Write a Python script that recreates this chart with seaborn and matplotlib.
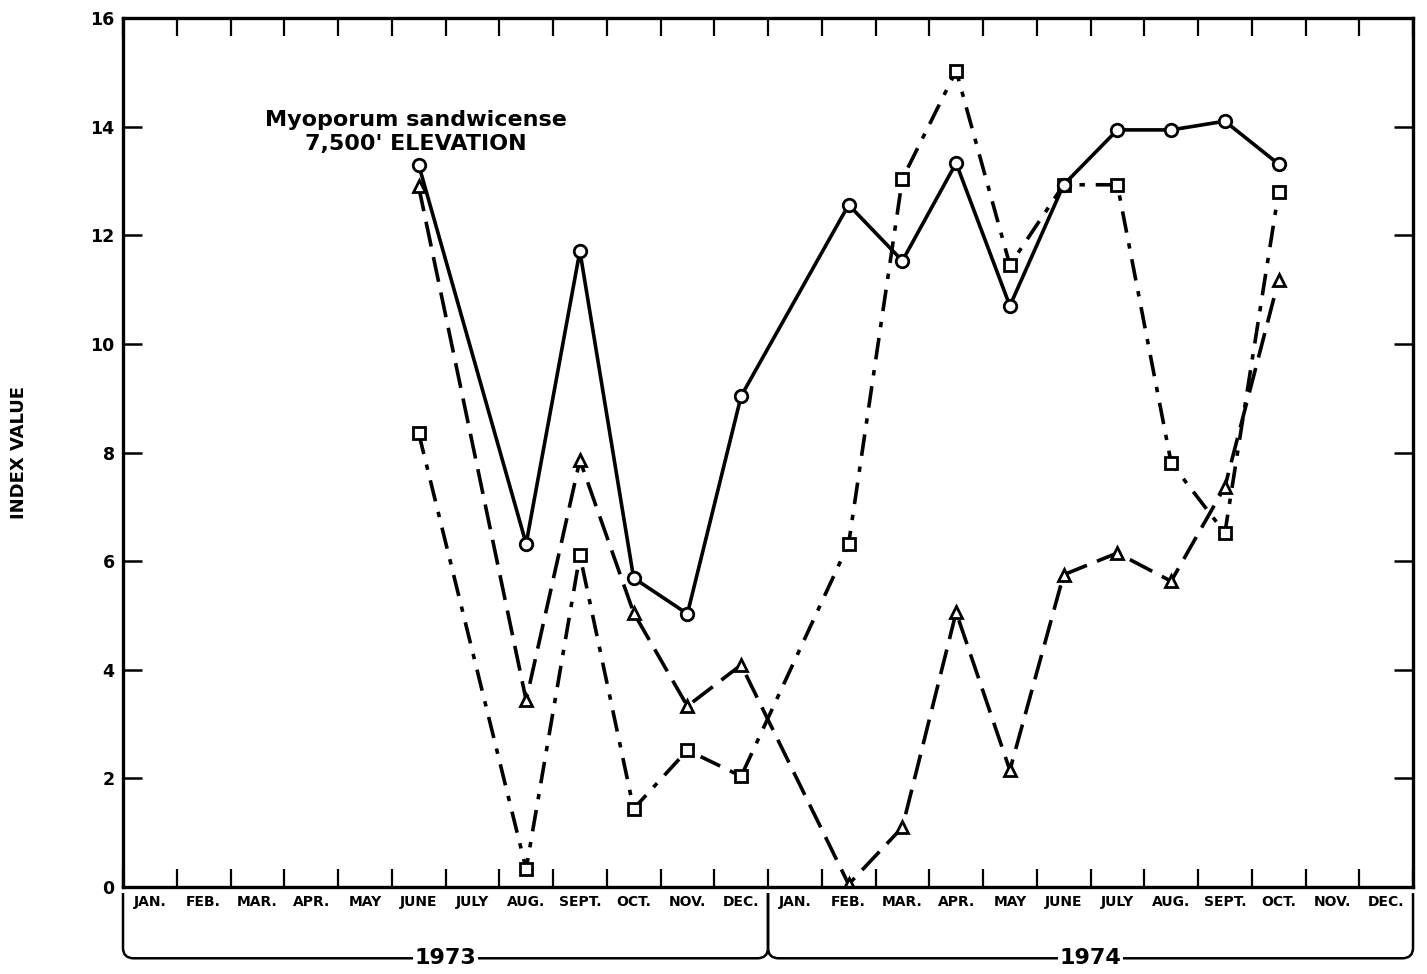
import numpy as np
import pandas as pd
import matplotlib.pyplot as plt
import seaborn as sns
from matplotlib.path import Path
from matplotlib.patches import PathPatch
import matplotlib.transforms as mtransforms

# month labels, two years (1973, 1974)
months = ["JAN.", "FEB.", "MAR.", "APR.", "MAY", "JUNE", "JULY", "AUG.",
          "SEPT.", "OCT.", "NOV.", "DEC."] * 2
years = ["1973", "1974"]
nan = np.nan

# index values (nan = no sample, line bridged)
circle_vals = [nan, nan, nan, nan, nan, 13.30, nan, 6.32, 11.71, 5.69, 5.03, 9.04,
               nan, 12.56, 11.53, 13.33, 10.70, 12.93, 13.94, 13.94, 14.10, 13.31, nan, nan]
triangle_vals = [nan, nan, nan, nan, nan, 12.90, nan, 3.44, 7.86, 5.05, 3.33, 4.09,
                 nan, 0.05, 1.10, 5.06, 2.15, 5.75, 6.15, 5.63, 7.37, 11.18, nan, nan]
square_vals = [nan, nan, nan, nan, nan, 8.36, nan, 0.33, 6.11, 1.44, 2.52, 2.04,
               nan, 6.32, 13.04, 15.03, 11.45, 12.93, 12.93, 7.81, 6.52, 12.80, nan, nan]

df = pd.DataFrame({
    "month": np.arange(24),
    "circle": circle_vals,
    "triangle": triangle_vals,
    "square": square_vals,
})

sns.set_theme(style="white")
plt.rcParams["font.family"] = ["DejaVu Sans"]
plt.rcParams["font.weight"] = "bold"
for key in ["text.color", "axes.labelcolor", "xtick.color", "ytick.color"]:
    plt.rcParams[key] = "black"

fig = plt.figure(figsize=(14.27, 9.74), dpi=100)
ax = fig.add_axes([0.0862, 0.0893, 0.904, 0.8922])

def draw_series(col, marker, ms, ls):
    d = df[["month", col]].dropna()
    sns.lineplot(data=d, x="month", y=col, ax=ax, color="black",
                 linewidth=2.6, linestyle=ls, marker=marker, markersize=ms,
                 markerfacecolor="white", markeredgecolor="black",
                 markeredgewidth=2, sort=True)

# --- dash-dot squares ---
draw_series("square", "s", 8, (0, (6, 3, 1.5, 3)))
# --- dashed triangles ---
draw_series("triangle", "^", 9, (0, (7, 3)))
# --- solid circles ---
draw_series("circle", "o", 9, "-")

ax.set_xlim(-0.5, 23.5)
ax.set_ylim(0, 16)

# x axis: labels at month centres, ticks at month boundaries
ax.set_xticks(np.arange(24))
ax.set_xticklabels(months, fontsize=10, fontweight="bold")
ax.set_xticks(np.arange(-0.5, 24, 1), minor=True)
ax.tick_params(axis="x", which="major", length=0, pad=6)
ax.tick_params(axis="x", which="minor", direction="in", length=13, width=1.6,
               top=True, bottom=True)

ax.set_yticks(range(0, 17, 2))
ax.set_yticklabels([str(v) for v in range(0, 17, 2)], fontsize=12.5, fontweight="bold")
ax.tick_params(axis="y", which="major", direction="in", length=14, width=1.8,
               left=True, right=True, pad=6)

for s in ax.spines.values():
    s.set_linewidth(2.4)
    s.set_color("black")

ax.set_xlabel("")
ax.set_ylabel("INDEX VALUE", fontsize=13, fontweight="bold")
ax.yaxis.set_label_coords(-0.074, 0.5)

ax.text(4.95, 13.9, "Myoporum sandwicense\n7,500' ELEVATION", ha="center",
        va="center", fontsize=16, fontweight="bold", linespacing=1.3)

# year brackets under the month labels
trans = mtransforms.blended_transform_factory(ax.transData, ax.transAxes)
y_top, y_bot, r_y, r_x = -0.007, -0.082, 0.012, 0.2
spans = [(-0.5, 11.5), (11.5, 23.5)]
for (x0, x1), yr in zip(spans, years):
    verts = [(x0, y_top), (x0, y_bot + r_y), (x0, y_bot), (x0 + r_x, y_bot),
             (x1 - r_x, y_bot), (x1, y_bot), (x1, y_bot + r_y), (x1, y_top)]
    codes = [Path.MOVETO, Path.LINETO, Path.CURVE3, Path.CURVE3,
             Path.LINETO, Path.CURVE3, Path.CURVE3, Path.LINETO]
    patch = PathPatch(Path(verts, codes), transform=trans, fill=False,
                      edgecolor="black", linewidth=1.8, clip_on=False)
    ax.add_patch(patch)
    ax.text((x0 + x1) / 2, y_bot, yr, transform=trans, ha="center", va="center",
            fontsize=16, fontweight="bold",
            bbox=dict(facecolor="white", edgecolor="none", pad=1))

fig.savefig("out.png", dpi=100)
print("saved out.png")
